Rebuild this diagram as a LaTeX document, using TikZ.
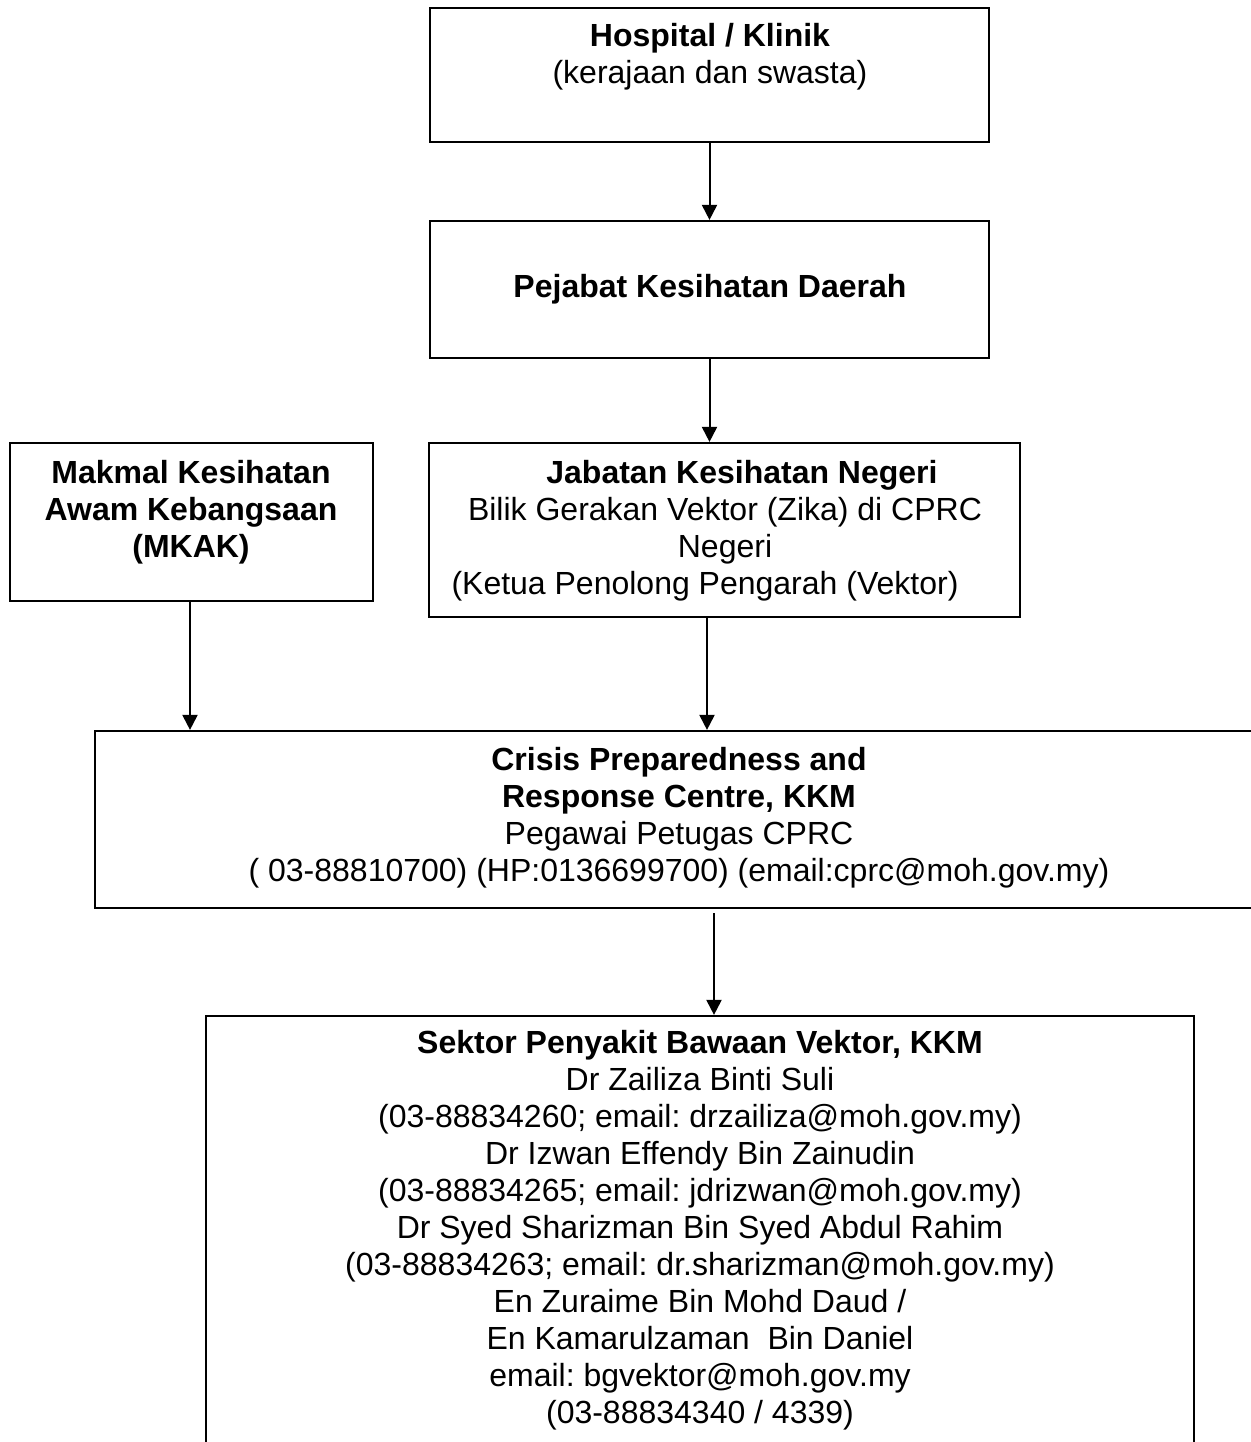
\documentclass[tikz,border=0pt]{standalone}
\usepackage{fontspec}
\setmainfont{Liberation Sans}
\usepackage{tikz}
\usetikzlibrary{arrows.meta, positioning}
\frenchspacing

\tikzset{
  flowbox/.style={draw, line width=1.1pt, rectangle, inner sep=0pt},
  flowtxt/.style={align=center, font=\fontsize{16}{18.5}\selectfont, inner sep=0pt},
  flowarrow/.style={line width=1pt, -{Triangle[length=7.5pt, width=7.5pt]}}
}

\begin{document}
\begin{tikzpicture}[x=0.5pt, y=-0.5pt]
  \useasboundingbox (0,0) rectangle (1251,1442);
  \clip (0,0) rectangle (1251,1442);

  % Boxes
  \node[flowbox, minimum width=279.5pt, minimum height=67pt] (hosp) at (709.5,75) {};
  \node[flowbox, minimum width=279.5pt, minimum height=68.5pt] (pkd) at (709.5,289.5) {};
  \node[flowbox, minimum width=181.5pt, minimum height=79pt] (mkak) at (191.5,522) {};
  \node[flowbox, minimum width=295.5pt, minimum height=87pt] (jkn) at (724.5,530) {};
  \node[flowbox, minimum width=583pt, minimum height=88.5pt] (cprc) at (678,819.5) {};
  \node[flowbox, minimum width=494pt, minimum height=260pt] (spbv) at (700,1276) {};

  % Texts
  \node[flowtxt] (hosptxt) at (710,57) {\textbf{Hospital / Klinik}\\(kerajaan dan swasta)};
  \node[flowtxt] (pkdtxt) at (710,289) {\textbf{Pejabat Kesihatan Daerah}};
  \node[flowtxt] (mkaktxt) at (191,512) {\textbf{Makmal Kesihatan}\\\textbf{Awam Kebangsaan}\\\textbf{(MKAK)}};
  \node[flowtxt] (jkntxt) at (725,531) {\hspace*{17pt}\textbf{Jabatan Kesihatan Negeri}\\
    Bilik Gerakan Vektor (Zika) di CPRC\\
    Negeri\\
    (Ketua Penolong Pengarah (Vektor)\hspace*{20pt}};
  \node[flowtxt] (cprctxt) at (679,818) {\textbf{Crisis Preparedness and}\\
    \textbf{Response Centre, KKM}\\
    Pegawai Petugas CPRC\\
    ( 03-88810700) (HP:0136699700) (email:cprc@moh.gov.my)};
  \node[flowtxt] (spbvtxt) at (700,1230) {\textbf{Sektor Penyakit Bawaan Vektor, KKM}\\
    Dr Zailiza Binti Suli\\
    (03-88834260; email: drzailiza@moh.gov.my)\\
    Dr Izwan Effendy Bin Zainudin\\
    (03-88834265; email: jdrizwan@moh.gov.my)\\
    Dr Syed Sharizman Bin Syed Abdul Rahim\\
    (03-88834263; email: dr.sharizman@moh.gov.my)\\
    En Zuraime Bin Mohd Daud /\\
    En Kamarulzaman\ \ Bin Daniel\\
    email: bgvektor@moh.gov.my\\
    (03-88834340 / 4339)};

  % Connectors
  \draw[flowarrow] (hosp.south) -- (pkd.north);
  \draw[flowarrow] (pkd.south) -- (jkn.north -| pkd.south);
  \draw[flowarrow] (mkak.south -| 190,0) -- (cprc.north -| 190,0);
  \draw[flowarrow] (jkn.south -| 707,0) -- (cprc.north -| 707,0);
  \draw[flowarrow] (cprc.south -| 714,0) ++(0,4) -- (spbv.north -| 714,0);
\end{tikzpicture}
\end{document}
